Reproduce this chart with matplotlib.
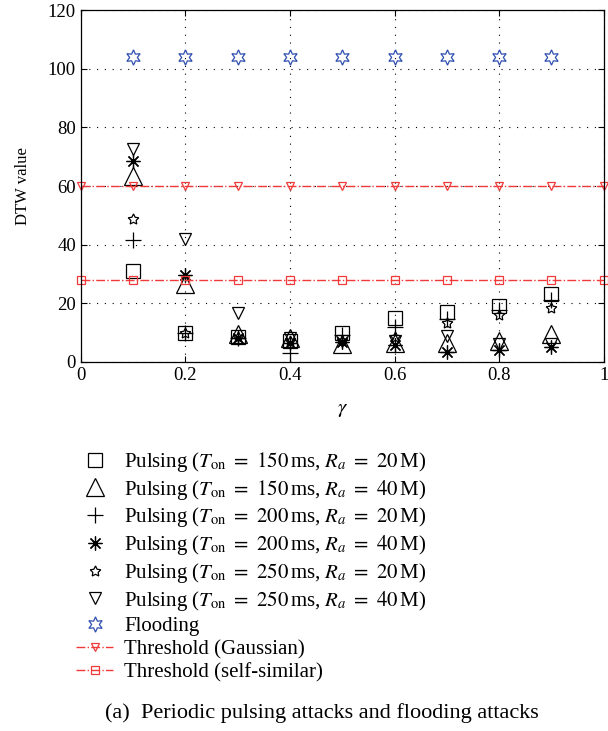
import matplotlib
matplotlib.use("Agg")
import matplotlib.pyplot as plt

plt.rcParams['font.family'] = ['Liberation Serif', 'DejaVu Serif']
plt.rcParams['mathtext.fontset'] = 'stix'

# ===== DATA =====
gamma = [0.1, 0.2, 0.3, 0.4, 0.5, 0.6, 0.7, 0.8, 0.9]
p150_20 = [31, 10, 8.5, 7, 10, 15, 17, 19, 23]
p150_40 = [63.5, 26.5, 9.4, 8.2, 6.2, 6.5, 6.5, 7.1, 9.4]
p200_20 = [41.5, 10, 8, 3, 9, 12, 14.6, 17.7, 21]
p200_40 = [68.5, 29.5, 8, 6.5, 6.9, 5.8, 3.5, 4.1, 5.2]
p250_20 = [48.8, 10, 8.5, 7, 7, 8.6, 13.3, 16, 18.4]
p250_40 = [72.5, 41.8, 16.6, 8, 7, 7, 8.9, 6, 6]
flooding = [104, 104, 104, 104, 104, 104, 104, 104, 104]

thr_x = [0, 0.1, 0.2, 0.3, 0.4, 0.5, 0.6, 0.7, 0.8, 0.9, 1.0]
thr_gauss = [60, 60, 60, 60, 60, 60, 60, 60, 60, 60, 60]
thr_self = [28, 28, 28, 28, 28, 28, 28, 28, 28, 28, 28]

labels = [
    r'Pulsing ($T_{\rm on}\ =\ 150\,$ms, $R_a\ =\ 20\,$M)',
    r'Pulsing ($T_{\rm on}\ =\ 150\,$ms, $R_a\ =\ 40\,$M)',
    r'Pulsing ($T_{\rm on}\ =\ 200\,$ms, $R_a\ =\ 20\,$M)',
    r'Pulsing ($T_{\rm on}\ =\ 200\,$ms, $R_a\ =\ 40\,$M)',
    r'Pulsing ($T_{\rm on}\ =\ 250\,$ms, $R_a\ =\ 20\,$M)',
    r'Pulsing ($T_{\rm on}\ =\ 250\,$ms, $R_a\ =\ 40\,$M)',
    'Flooding',
    'Threshold (Gaussian)',
    'Threshold (self-similar)',
]

fig = plt.figure(figsize=(6.08, 7.31), dpi=100)
ax = fig.add_axes([0.133, 0.505, 0.86, 0.481])

k = dict(linestyle='none', mfc='none', mew=0.9)
ax.plot(gamma, p150_20, marker='s', ms=10, mec='black', label=labels[0], **k)
ax.plot(gamma, p150_40, marker='^', ms=13, mec='black', label=labels[1], **k)
ax.plot(gamma, p200_20, marker='+', ms=12, mec='black', label=labels[2], **k)
ax.plot(gamma, p200_40, marker=(8, 2, 0), ms=10, mec='black', label=labels[3], **k)
ax.plot(gamma, p250_20, marker=(5, 1, 0), ms=8, mec='black', label=labels[4], **k)
ax.plot(gamma, p250_40, marker='v', ms=9, mec='black', label=labels[5], **k)
ax.plot(gamma, flooding, marker=(6, 1, 0), ms=11, mec='#2f4fb0', label=labels[6], **k)

red = '#f03a3a'
ax.plot(thr_x, thr_gauss, color=red, linestyle='-.', linewidth=1.0,
        marker='v', ms=6, mfc='none', mec=red, mew=0.9, label=labels[7], clip_on=False)
ax.plot(thr_x, thr_self, color=red, linestyle='-.', linewidth=1.0,
        marker='s', ms=6, mfc='none', mec=red, mew=0.9, label=labels[8], clip_on=False)

ax.set_xlim(0, 1)
ax.set_ylim(0, 120)
ax.set_xticks([0, 0.2, 0.4, 0.6, 0.8, 1])
ax.set_xticklabels(['0', '0.2', '0.4', '0.6', '0.8', '1'])
ax.set_yticks([0, 20, 40, 60, 80, 100, 120])
ax.tick_params(direction='in', top=True, right=True, length=4, labelsize=13.5)
ax.grid(True, color='black', linestyle=(0, (1, 6)), linewidth=0.8)
for s in ax.spines.values():
    s.set_linewidth(0.9)

ax.set_xlabel(r'$\gamma$', fontsize=15, labelpad=12)
ax.set_ylabel('DTW value', fontsize=12, labelpad=12)

# ===== LEGEND =====
fig.legend(loc='upper left', bbox_to_anchor=(0.112, 0.396), frameon=False,
           fontsize=15, handlelength=1.75, handletextpad=0.55, labelspacing=0.18,
           borderaxespad=0)

fig.text(0.173, 0.025, '(a)  Periodic pulsing attacks and flooding attacks',
         fontsize=16, va='center')

fig.savefig('out.png', dpi=100)
